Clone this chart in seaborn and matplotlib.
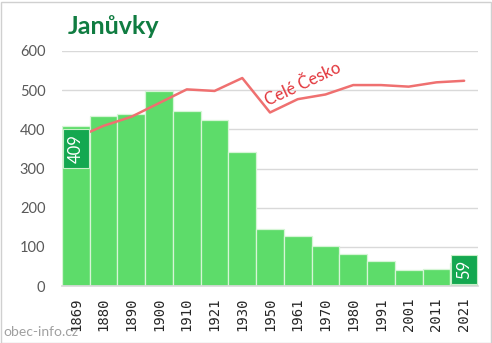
import numpy as np
import pandas as pd
import matplotlib
matplotlib.use("Agg")
import matplotlib.pyplot as plt
import seaborn as sns
from matplotlib.patches import Rectangle

years = ["1869", "1880", "1890", "1900", "1910", "1921", "1930", "1950",
         "1961", "1970", "1980", "1991", "2001", "2011", "2021"]
population = [409, 434, 440, 499, 448, 425, 341, 145, 127, 101, 81, 63, 40, 43, 59]
cele_cesko = [378, 409, 432, 467, 502, 498, 531, 443, 477, 489, 513, 513, 509, 520, 524]
yticks = [0, 100, 200, 300, 400, 500, 600]
title = "Janůvky"
line_label = "Celé Česko"
source = "obec-info.cz"

sns.set_theme(style="white")
plt.rcParams['font.family'] = ['Lato', 'DejaVu Sans']

fig = plt.figure(figsize=(4.92, 3.43), dpi=100)
ax = fig.add_axes([62/492, 1-286/343, (478-62)/492, (286-51)/343])

df = pd.DataFrame({"year": years, "pop": population})
sns.barplot(data=df, x="year", y="pop", color="#5ddc6a", width=1.0,
            edgecolor="#d6f5d6", linewidth=0.9, saturation=1, ax=ax, zorder=2)

xs = np.arange(len(years))
sns.lineplot(x=xs, y=cele_cesko, color="#ef7070", linewidth=1.8, ax=ax, zorder=3)

ax.set_ylim(0, 600)
ax.set_xlim(-0.5, len(years) - 0.5)
ax.set_yticks(yticks)
ax.set_yticklabels([str(t) for t in yticks], fontsize=10.5, color="#595959")
ax.tick_params(axis="y", length=0, pad=12)
ax.grid(axis="y", color="#d9d9d9", linewidth=1, zorder=0)
ax.set_axisbelow(True)
ax.set_xlabel("")
ax.set_ylabel("")

ax.set_xticks(xs)
ax.set_xticklabels(years, rotation=90, fontsize=10, color="#262626",
                   family="DejaVu Sans Mono")
ax.tick_params(axis="x", which="major", length=0, pad=8)
ax.set_xticks(np.arange(len(years) + 1) - 0.5, minor=True)
ax.tick_params(axis="x", which="minor", length=5, color="#d9d9d9", width=1)

for s in ["top", "right", "left"]:
    ax.spines[s].set_visible(False)
ax.spines["bottom"].set_color("#d9d9d9")

# value labels for first and last
for i in (0, len(years) - 1):
    v = population[i]
    yl = max(v - 58, 42)
    ax.text(i, yl, str(v), rotation=90, ha="center", va="center", fontsize=12,
            color="white", zorder=5,
            bbox=dict(boxstyle="square,pad=0.28", facecolor="#14a850",
                      edgecolor="#c8efc8", linewidth=0.8))

ax.text(8.2, 515, line_label, rotation=25, ha="center", va="center",
        fontsize=12, color="#e2343a", zorder=5)

fig.text(68/492, 1-34/343, title, fontsize=18, fontweight="bold",
         color="#107c41", ha="left", va="baseline")
fig.text(3/492, 1-336/343, source, fontsize=10, color="#a0a0a0",
         ha="left", va="baseline")

fig.patches.append(Rectangle((0.5/492, 0.5/343), 490/492, 341/343,
                             transform=fig.transFigure, fill=False,
                             edgecolor="#d0d0d0", linewidth=1))

fig.savefig("out.png", dpi=100)
